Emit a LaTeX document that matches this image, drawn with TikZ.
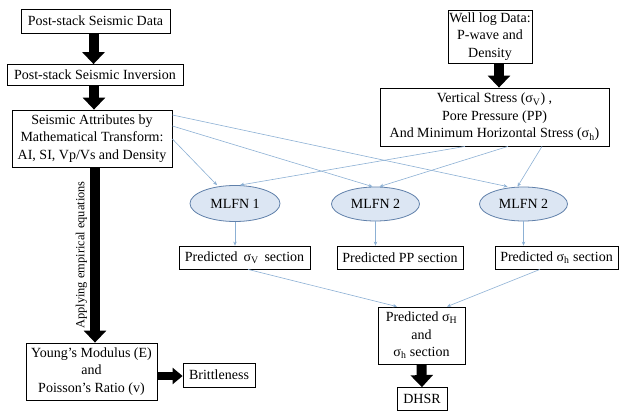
\documentclass[tikz,border=0pt]{standalone}
\usepackage{fontspec}
\setmainfont{Liberation Serif}
\usetikzlibrary{arrows.meta,shapes.geometric}
\definecolor{linkblue}{RGB}{140,176,212}
\definecolor{mlfnfill}{RGB}{220,230,243}
\definecolor{mlfnline}{RGB}{96,128,170}

\begin{document}
\begin{tikzpicture}[x=1pt,y=-1pt,
	font=\fontsize{14}{17.5}\selectfont,
	box/.style={draw, line width=0.8pt, align=center, inner sep=0pt},
	mlfn/.style={ellipse, draw=mlfnline, fill=mlfnfill, line width=0.8pt, inner sep=0pt, minimum width=88pt, minimum height=34pt},
	fat/.style={line width=10pt, -{Triangle[width=22pt,length=12pt]}},
	link/.style={linkblue, line width=0.6pt, -{Stealth[length=4pt,width=3.5pt]}}]
	\useasboundingbox (0,0) rectangle (623,411);

	% left column
	\node[box, minimum width=149pt, minimum height=24pt] (data) at (95.5,21) {Post-stack Seismic Data};
	\node[box, minimum width=176pt, minimum height=21pt] (inv) at (95,75) {Post-stack Seismic Inversion};
	\node[box, minimum width=160pt, minimum height=57pt] (attr) at (92,138.5) {Seismic Attributes by\\ Mathematical Transform:\\ AI, SI, Vp/Vs and Density};
	\node[box, minimum width=131pt, minimum height=57pt] (young) at (91.5,371.5) {Young’s Modulus (E)\\ and\\ Poisson’s Ratio (v)};
	\node[box, minimum width=72pt, minimum height=24pt] (brit) at (219,375) {Brittleness};

	% right column
	\node[box, minimum width=84pt, minimum height=53pt] (well) at (490,36.5) {Well log Data:\\ P-wave and\\ Density};
	\node[box, minimum width=229pt, minimum height=58pt] (stress) at (494.5,117) {Vertical Stress (σ\textsubscript{V}) ,\\ Pore Pressure (PP)\\ And Minimum Horizontal Stress (σ\textsubscript{h})};

	% networks
	\node[mlfn, minimum width=90pt, minimum height=36pt] (mlfnA) at (235,203.5) {MLFN 1};
	\node[mlfn] (mlfnB) at (375.5,204) {MLFN 2};
	\node[mlfn] (mlfnC) at (523.5,204) {MLFN 2};

	% predicted sections
	\node[box, minimum width=131pt, minimum height=23pt] (predV) at (244.5,257.5) {Predicted \,σ\textsubscript{V} \,section};
	\node[box, minimum width=126pt, minimum height=23pt] (predPP) at (400,257.5) {Predicted PP section};
	\node[box, minimum width=123pt, minimum height=23pt] (predh) at (556.5,257.5) {Predicted σ\textsubscript{h} section};
	\node[box, minimum width=87pt, minimum height=57pt] (predH) at (421.5,335.5) {Predicted σ\textsubscript{H}\\ and\\ σ\textsubscript{h} section};
	\node[box, minimum width=50pt, minimum height=23pt] (dhsr) at (422,399) {DHSR};

	% black arrows
	\draw[fat] ([xshift=-2pt]data.south) -- ([xshift=-2pt]data.south |- inv.north);
	\draw[fat] ([xshift=-1pt]inv.south) -- ([xshift=-1pt]inv.south |- attr.north);
	\draw[fat] ([xshift=3pt]attr.south) -- ([xshift=3pt]attr.south |- young.north)
		node[midway, rotate=90, anchor=south, inner sep=3pt, font=\fontsize{12.4}{14}\selectfont] {Applying empirical equations};
	\draw[line width=8pt, -{Triangle[width=16pt,length=10pt]}] ([yshift=-4.5pt]young.east) -- ([yshift=-4.5pt]young.east -| brit.west);
	\draw[fat] ([xshift=9pt]well.south) -- ([xshift=9pt]well.south |- stress.north);
	\draw[fat] (predH.south) -- (dhsr.north);

	% blue links
	\draw[link] ([yshift=23.5pt]attr.east) -- ([xshift=-16pt]mlfnC.north);
	\draw[link] ([yshift=12.5pt]attr.east) -- ([xshift=-3pt]mlfnB.north);
	\draw[link] ([yshift=-0.5pt]attr.east) -- ([xshift=-18pt]mlfnA.north);
	\draw[link] ([xshift=-29.5pt]stress.south) -- ([xshift=5pt]mlfnA.north);
	\draw[link] ([xshift=13.5pt]stress.south) -- ([xshift=4pt]mlfnB.north);
	\draw[link] ([xshift=47.5pt]stress.south) -- ([xshift=-6pt]mlfnC.north);
	\draw[link] (mlfnA.south) -- (mlfnA.south |- predV.north);
	\draw[link] (mlfnB.south) -- (mlfnB.south |- predPP.north);
	\draw[link] (mlfnC.south) -- (mlfnC.south |- predh.north);
	\draw[link] ([xshift=3.5pt]predV.south) -- ([xshift=-24.5pt]predH.north);
	\draw[link] ([xshift=-16.5pt]predh.south) -- ([xshift=25.5pt]predH.north);
\end{tikzpicture}
\end{document}
